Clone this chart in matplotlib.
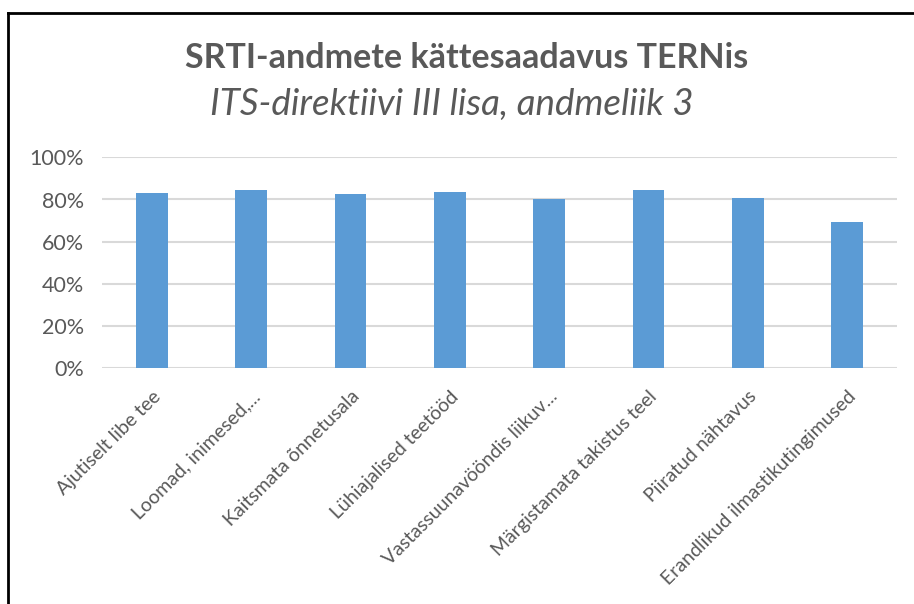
import matplotlib
matplotlib.use("Agg")
import matplotlib.pyplot as plt
from matplotlib.lines import Line2D
import numpy as np

categories = ["Ajutiselt libe tee", "Loomad, inimesed,...", "Kaitsmata õnnetusala",
              "Lühiajalised teetööd", "Vastassuunavööndis liikuv...",
              "Märgistamata takistus teel", "Piiratud nähtavus",
              "Erandlikud ilmastikutingimused"]
values = [0.832, 0.845, 0.826, 0.837, 0.801, 0.844, 0.807, 0.692]
yticks = [0, 0.2, 0.4, 0.6, 0.8, 1.0]
ytick_labels = ["0%", "20%", "40%", "60%", "80%", "100%"]
title = "SRTI-andmete kättesaadavus TERNis"
subtitle = "ITS-direktiivi III lisa, andmeliik 3"

plt.rcParams['font.family'] = ['Lato', 'DejaVu Sans']
W, H = 914, 604
fig = plt.figure(figsize=(W / 100, H / 100), dpi=100)
fig.patch.set_facecolor('white')

ax = fig.add_axes([102 / W, 1 - 368.3 / H, 795 / W, 211 / H])
x = np.arange(len(categories))
ax.bar(x, values, width=0.32, color='#5B9BD5', zorder=3)
ax.set_xlim(-0.5, len(categories) - 0.5)
ax.set_ylim(0, 1.0)
ax.set_yticks(yticks)
ax.set_yticklabels(ytick_labels, fontsize=15.5, color='#595959')
ax.yaxis.grid(True, color='#D9D9D9', linewidth=1.5, zorder=0)
ax.set_axisbelow(True)
for s in ax.spines.values():
    s.set_visible(False)
ax.tick_params(axis='both', length=0)
ax.tick_params(axis='y', pad=13)
ax.set_xticks(x)
ax.set_xticklabels(categories, rotation=45, ha='right', va='top',
                   rotation_mode='anchor', fontsize=14, color='#595959')
ax.tick_params(axis='x', pad=14)

fig.text(467 / W, 1 - 58 / H, title, ha='center', va='center',
         fontsize=24.5, fontweight='bold', color='#595959')
fig.text(452 / W, 1 - 104 / H, subtitle, ha='center', va='center',
         fontsize=26.5, fontstyle='italic', color='#595959')

fig.add_artist(Line2D([8 / W, 8 / W], [0, 1 - 13 / H], color='black',
                      linewidth=2.0, transform=fig.transFigure))
fig.add_artist(Line2D([8 / W, 1.0], [1 - 13 / H, 1 - 13 / H], color='black',
                      linewidth=2.0, transform=fig.transFigure))

fig.savefig("out.png", dpi=100)
